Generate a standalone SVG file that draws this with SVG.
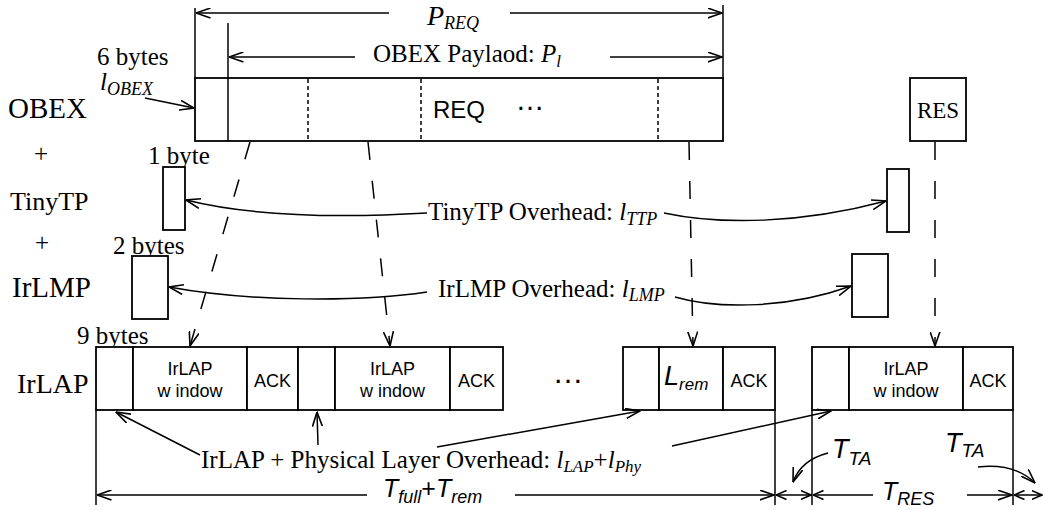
<svg xmlns="http://www.w3.org/2000/svg" width="1043" height="510" viewBox="0 0 1043 510">
<style>
.t{font-family:"Liberation Serif","Times New Roman",serif;fill:#000}
.ti{font-family:"Liberation Serif","Times New Roman",serif;font-style:italic;fill:#000}
.s{font-family:"Liberation Sans",Arial,sans-serif;fill:#000}
.si{font-family:"Liberation Sans",Arial,sans-serif;font-style:italic;fill:#000}
.box{fill:#fff;stroke:#000;stroke-width:1.8}
.ln{fill:none;stroke:#000;stroke-width:1.5}
.dash{fill:none;stroke:#000;stroke-width:1.5;stroke-dasharray:18 21}
.sd{fill:none;stroke:#000;stroke-width:1.5;stroke-dasharray:4 3}
</style>
<defs>
<marker id="ah" viewBox="0 0 15 11" refX="14.5" refY="5.5" markerWidth="15" markerHeight="11" markerUnits="userSpaceOnUse" orient="auto-start-reverse">
<path d="M0,0.5 L14.5,5.5 L0,10.5" fill="none" stroke="#000" stroke-width="1.6"/>
</marker>
<marker id="ahs" viewBox="0 0 11 10" refX="10.5" refY="5" markerWidth="11" markerHeight="10" markerUnits="userSpaceOnUse" orient="auto-start-reverse">
<path d="M0,0.5 L10.5,5 L0,9.5" fill="none" stroke="#000" stroke-width="1.6"/>
</marker>
</defs>
<rect width="1043" height="510" fill="#fff"/>

<g id="labels">
<text class="t" x="8" y="118" font-size="29">OBEX</text>
<text class="t" x="41" y="162" font-size="25" text-anchor="middle">+</text>
<text class="t" x="10" y="210" font-size="26">TinyTP</text>
<text class="t" x="42" y="251" font-size="25" text-anchor="middle">+</text>
<text class="t" x="12" y="297" font-size="29">IrLMP</text>
<text class="t" x="17" y="393" font-size="28">IrLAP</text>
<text class="t" x="97" y="65" font-size="25">6 bytes</text>
<text class="ti" x="100" y="90" font-size="25">l<tspan font-size="18" dy="5">OBEX</tspan></text>
<text class="t" x="148" y="164" font-size="25">1 byte</text>
<text class="t" x="113" y="254" font-size="25">2 bytes</text>
<text class="t" x="77" y="344" font-size="25">9 bytes</text>
</g>

<g id="obex-frame">
<rect class="box" x="195" y="78" width="528" height="63"/>
<line class="sd" x1="308" y1="79" x2="308" y2="140"/>
<line class="sd" x1="421" y1="79" x2="421" y2="140"/>
<line class="sd" x1="658" y1="79" x2="658" y2="140"/>
<line class="ln" x1="228" y1="23" x2="228" y2="141"/>
<text class="s" x="433" y="118" font-size="24">REQ</text>
<text class="s" x="530" y="110" font-size="29" text-anchor="middle">…</text>
</g>

<g id="res">
<rect class="box" x="910" y="78" width="56" height="63"/>
<text class="t" x="938" y="118" font-size="23" text-anchor="middle">RES</text>
</g>

<g id="tinytp-left"><rect class="box" x="163" y="167" width="22" height="63"/></g>
<g id="tinytp-right"><rect class="box" x="887" y="169" width="22" height="63"/></g>
<g id="irlmp-left"><rect class="box" x="132" y="256" width="36" height="63"/></g>
<g id="irlmp-right"><rect class="box" x="852" y="254" width="36" height="63"/></g>

<g id="irlap-1">
<rect class="box" x="96" y="347" width="37" height="63"/>
<rect class="box" x="133" y="347" width="114" height="63"/>
<rect class="box" x="247" y="347" width="51" height="63"/>
<text class="s" x="190" y="375" font-size="18" text-anchor="middle">IrLAP</text>
<text class="s" x="190" y="397" font-size="18" text-anchor="middle">w indow</text>
<text class="s" x="272.5" y="387" font-size="18" text-anchor="middle">ACK</text>
</g>
<g id="irlap-2">
<rect class="box" x="298" y="347" width="37" height="63"/>
<rect class="box" x="335" y="347" width="115" height="63"/>
<rect class="box" x="450" y="347" width="53" height="63"/>
<text class="s" x="392.5" y="375" font-size="18" text-anchor="middle">IrLAP</text>
<text class="s" x="392.5" y="397" font-size="18" text-anchor="middle">w indow</text>
<text class="s" x="476.5" y="387" font-size="18" text-anchor="middle">ACK</text>
</g>
<text class="s" x="568" y="383" font-size="31" text-anchor="middle">…</text>
<g id="irlap-3">
<rect class="box" x="623" y="347" width="36" height="63"/>
<rect class="box" x="659" y="347" width="64" height="63"/>
<rect class="box" x="723" y="347" width="52" height="63"/>
<text class="si" x="664" y="385" font-size="27">L<tspan font-size="17" dy="5">rem</tspan></text>
<text class="s" x="749" y="387" font-size="18" text-anchor="middle">ACK</text>
</g>
<g id="irlap-4">
<rect class="box" x="812" y="347" width="37" height="63"/>
<rect class="box" x="849" y="347" width="114" height="63"/>
<rect class="box" x="963" y="347" width="50" height="63"/>
<text class="s" x="906" y="375" font-size="18" text-anchor="middle">IrLAP</text>
<text class="s" x="906" y="397" font-size="18" text-anchor="middle">w indow</text>
<text class="s" x="988" y="387" font-size="18" text-anchor="middle">ACK</text>
</g>

<g id="connectors">
<line class="ln" x1="195" y1="8" x2="195" y2="78"/>
<line class="ln" x1="723" y1="5" x2="723" y2="78"/>
<line class="ln" x1="389" y1="13" x2="196" y2="13" marker-end="url(#ah)"/>
<line class="ln" x1="510" y1="13" x2="722" y2="13" marker-end="url(#ah)"/>
<line class="ln" x1="355" y1="57" x2="229" y2="57" marker-end="url(#ah)"/>
<line class="ln" x1="610" y1="57" x2="722" y2="57" marker-end="url(#ah)"/>
<line class="ln" x1="145" y1="98" x2="194" y2="108" marker-end="url(#ah)"/>
<line class="dash" x1="250" y1="142" x2="190" y2="346" marker-end="url(#ah)"/>
<line class="dash" x1="368" y1="142" x2="390" y2="346" marker-end="url(#ah)"/>
<line class="dash" x1="689" y1="142" x2="693" y2="346" marker-end="url(#ah)"/>
<line class="dash" x1="935" y1="142" x2="935" y2="346" marker-end="url(#ah)"/>
<path class="ln" d="M427,213 C340,218 250,216 186,200" marker-end="url(#ah)"/>
<path class="ln" d="M664,213 C720,225 800,224 886,201" marker-end="url(#ah)"/>
<path class="ln" d="M427,292 C360,302 250,302 169,287" marker-end="url(#ah)"/>
<path class="ln" d="M675,297 C720,310 790,308 851,286" marker-end="url(#ah)"/>
<line class="ln" x1="200" y1="455" x2="116" y2="412" marker-end="url(#ah)"/>
<line class="ln" x1="318" y1="445" x2="317" y2="412" marker-end="url(#ah)"/>
<line class="ln" x1="437" y1="447" x2="640" y2="411" marker-end="url(#ah)"/>
<line class="ln" x1="672" y1="446" x2="831" y2="411" marker-end="url(#ah)"/>
<line class="ln" x1="96" y1="410" x2="96" y2="505"/>
<line class="ln" x1="775" y1="410" x2="775" y2="505"/>
<line class="ln" x1="812" y1="410" x2="812" y2="505"/>
<line class="ln" x1="1013" y1="410" x2="1013" y2="505"/>
<line class="ln" x1="367" y1="495" x2="97" y2="495" marker-end="url(#ah)"/>
<line class="ln" x1="515" y1="495" x2="774" y2="495" marker-end="url(#ah)"/>
<line class="ln" x1="776" y1="495" x2="811" y2="495" marker-start="url(#ahs)" marker-end="url(#ahs)"/>
<line class="ln" x1="873" y1="495" x2="813" y2="495" marker-end="url(#ahs)"/>
<line class="ln" x1="967" y1="495" x2="1012" y2="495" marker-end="url(#ah)"/>
<line class="ln" x1="1014" y1="495" x2="1042" y2="495" marker-start="url(#ahs)" marker-end="url(#ahs)"/>
<path class="ln" d="M828,453 Q801,460 793,482" marker-end="url(#ah)"/>
<path class="ln" d="M978,467 Q1015,463 1035,483" marker-end="url(#ah)"/>
</g>

<g id="connector-labels">
<text class="ti" x="427" y="25" font-size="28">P<tspan font-size="18" dy="4">REQ</tspan></text>
<text class="t" x="373" y="62" font-size="25">OBEX Paylaod: <tspan font-style="italic">P</tspan><tspan font-style="italic" font-size="17" dy="5">l</tspan></text>
<text class="t" x="428" y="220" font-size="25">TinyTP Overhead: <tspan font-style="italic">l</tspan><tspan font-style="italic" font-size="18" dy="5">TTP</tspan></text>
<text class="t" x="438" y="297" font-size="25">IrLMP Overhead: <tspan font-style="italic">l</tspan><tspan font-style="italic" font-size="18" dy="4">LMP</tspan></text>
<text class="t" x="201" y="468" font-size="25">IrLAP + Physical Layer Overhead: <tspan font-style="italic">l</tspan><tspan font-style="italic" font-size="17" dy="4">LAP</tspan><tspan dy="-4">+</tspan><tspan font-style="italic">l</tspan><tspan font-style="italic" font-size="17" dy="4">Phy</tspan></text>
<text class="si" x="383" y="497" font-size="25">T<tspan font-size="18" dy="6">full</tspan><tspan font-style="normal" dy="-6">+</tspan>T<tspan font-size="18" dy="6">rem</tspan></text>
<text class="si" x="882" y="500" font-size="25">T<tspan font-size="18" dy="5">RES</tspan></text>
<text class="si" x="832" y="458" font-size="27">T<tspan font-size="19" dy="7">TA</tspan></text>
<text class="si" x="945" y="452" font-size="27">T<tspan font-size="19" dy="5">TA</tspan></text>
</g>
</svg>
